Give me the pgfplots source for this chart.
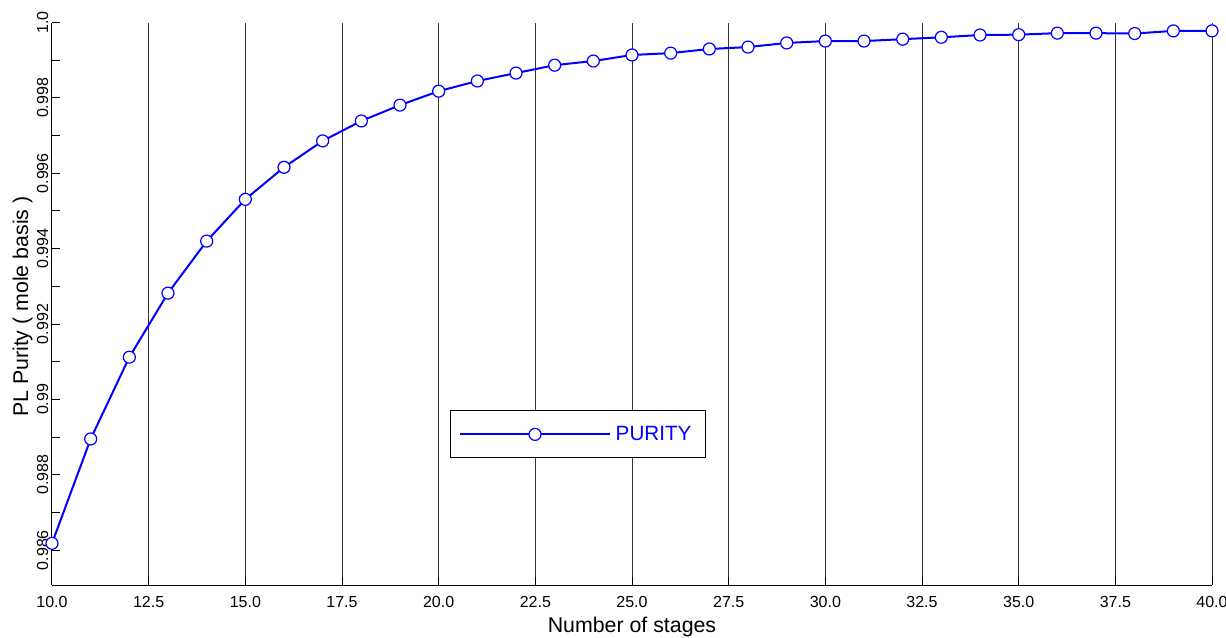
\documentclass[border=0pt]{standalone}
\usepackage{pgfplots}
\pgfplotsset{compat=1.18}
\usepackage{fontspec}
\setmainfont{Liberation Sans}
\begin{document}
\begin{tikzpicture}
\begin{axis}[
  scale only axis,
  width=870pt, height=421.8pt,
  xmin=10, xmax=40,
  ymin=0.985074, ymax=1.0,
  axis x line*=bottom,
  axis y line*=left,
  axis line style={line width=0.75pt, black},
  xtick={10,12.5,15,17.5,20,22.5,25,27.5,30,32.5,35,37.5,40},
  xticklabels={10.0,12.5,15.0,17.5,20.0,22.5,25.0,27.5,30.0,32.5,35.0,37.5,40.0},
  ytick={0.986,0.988,0.99,0.992,0.994,0.996,0.998,1.0},
  yticklabels={0.986,0.988,0.99,0.992,0.994,0.996,0.998,1.0},
  minor ytick={0.987,0.989,0.991,0.993,0.995,0.997,0.999},
  tick align=inside,
  major tick length=6pt,
  minor tick length=6pt,
  tick style={line width=0.75pt, black},
  xmajorgrids,
  major grid style={line width=0.75pt, black!80},
  ticklabel style={font=\fontsize{12}{14}\selectfont},
  yticklabel style={rotate=90, anchor=south, inner sep=2.5pt},
  xticklabel style={anchor=base, yshift=-16.5pt},
  xlabel={Number of stages},
  ylabel={PL Purity ( mole basis )},
  every axis x label/.style={at={(axis description cs:0.5,-0.0836)}, anchor=base, font=\fontsize{16}{19}\selectfont},
  every axis y label/.style={at={(axis description cs:-0.0205,0.495)}, rotate=90, anchor=base, font=\fontsize{16}{19}\selectfont},
  legend style={at={(axis description cs:0.4534,0.2678)}, anchor=center,
    draw=black, line width=0.75pt, fill=white, text=blue,
    font=\fontsize{15.5}{18}\selectfont, inner xsep=6.5pt, inner ysep=8.5pt,
    nodes={inner xsep=3.75pt, inner ysep=3pt}},
  legend cell align=left,
  legend image code/.code={
    \draw[mark repeat=2,mark phase=2,#1] plot coordinates {(0pt,0pt) (56pt,0pt) (112pt,0pt)};
  },
]
\addplot[color=blue, line width=1.5pt, mark=*, mark size=4.5pt,
  mark options={fill=white, draw=blue, line width=0.9pt}]
coordinates {
(10,0.98618) (11,0.98895) (12,0.99112) (13,0.99282) (14,0.99420)
(15,0.99531) (16,0.99616) (17,0.99686) (18,0.99739) (19,0.99781)
(20,0.99818) (21,0.99845) (22,0.99866) (23,0.99887) (24,0.99898)
(25,0.99914) (26,0.99919) (27,0.99930) (28,0.99935) (29,0.99946)
(30,0.99951) (31,0.99951) (32,0.99956) (33,0.99961) (34,0.99967)
(35,0.99968) (36,0.99972) (37,0.99972) (38,0.99971) (39,0.99978)
(40,0.99978)
};
\addlegendentry{PURITY\hspace{7pt}}
\end{axis}
\pgfresetboundingbox
\useasboundingbox (-39pt,-39pt) rectangle (880.5pt,438.75pt);
\end{tikzpicture}
\end{document}
